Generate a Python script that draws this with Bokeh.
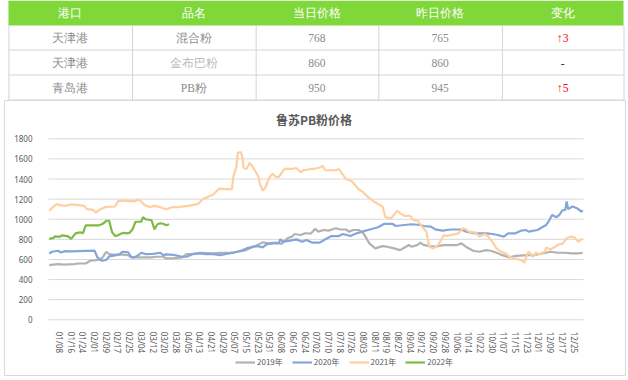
from bokeh.plotting import figure
from bokeh.layouts import column
from bokeh.models import Range1d, FixedTicker, Legend, LegendItem, LinearAxis, Label
from bokeh.core.properties import value
from bokeh.embed import file_html
from bokeh.resources import INLINE

# ---------------- table data ----------------
headers = ["港口", "品名", "当日价格", "昨日价格", "变化"]
ports = ["天津港", "天津港", "青岛港"]
products = ["混合粉", "金布巴粉", "PB粉"]
today_price = [768, 860, 950]
yesterday_price = [765, 860, 945]
changes = ["↑3", "-", "↑5"]

# ---------------- chart data ----------------
chart_title = "鲁苏PB粉价格"
series_names = ["2019年", "2020年", "2021年", "2022年"]
y_ticks = [0, 200, 400, 600, 800, 1000, 1200, 1400, 1600, 1800]
date_labels = ["01/08", "01/16", "01/24", "02/01", "02/09", "02/17", "02/25",
               "03/04", "03/12", "03/20", "03/28", "04/05", "04/13", "04/21",
               "04/29", "05/07", "05/15", "05/23", "05/31", "06/08", "06/16",
               "06/24", "07/02", "07/10", "07/18", "07/26", "08/03", "08/11",
               "08/19", "08/27", "09/04", "09/12", "09/20", "09/28", "10/06",
               "10/14", "10/22", "10/30", "11/07", "11/15", "11/23", "12/01",
               "12/09", "12/17", "12/25"]

day_2019 = [0, 6, 10, 17, 20, 25, 28, 32, 35, 37, 39, 41, 45, 48, 54, 56, 60, 64, 70,
            73, 78, 80, 85, 91, 94, 99, 103, 112, 117, 124, 129, 134, 137, 141, 146,
            150, 155, 159, 163, 166, 168, 172, 175, 179, 182, 184, 188, 191, 196, 199,
            203, 205, 208, 212, 215, 219, 223, 228, 231, 236, 240, 244, 246, 248, 252,
            254, 256, 260, 264, 270, 279, 282, 285, 290, 294, 299, 302, 306, 310, 315,
            318, 324, 331, 335, 343, 348, 353, 357, 362, 365]
price_2019 = [543, 553, 548, 553, 560, 560, 587, 593, 600, 630, 677, 653, 645, 650, 643,
              620, 622, 620, 620, 627, 627, 610, 610, 620, 653, 655, 667, 660, 665, 665,
              677, 690, 710, 733, 770, 760, 767, 755, 810, 827, 853, 843, 860, 858, 905,
              877, 893, 887, 910, 900, 898, 877, 893, 893, 860, 760, 710, 733, 727, 710,
              693, 727, 743, 727, 745, 767, 745, 733, 727, 743, 743, 760, 727, 687, 677,
              693, 687, 667, 643, 620, 633, 640, 643, 653, 677, 667, 667, 660, 660, 667]

day_2020 = [0, 2, 6, 8, 11, 15, 31, 33, 36, 39, 41, 45, 48, 50, 54, 56, 58, 61, 63, 66,
            71, 76, 78, 80, 85, 91, 94, 98, 103, 107, 112, 117, 121, 126, 131, 135, 139,
            143, 146, 149, 153, 157, 158, 160, 165, 169, 173, 176, 180, 185, 188, 193,
            198, 201, 206, 209, 214, 220, 225, 229, 235, 237, 243, 248, 254, 256, 261,
            264, 269, 275, 282, 285, 292, 299, 303, 307, 309, 311, 314, 319, 323, 326,
            328, 334, 336, 340, 342, 344, 347, 349, 351, 353, 354, 355, 358, 361, 364, 365]
price_2020 = [660, 677, 687, 670, 683, 680, 687, 620, 587, 595, 630, 640, 650, 677, 672,
              627, 620, 643, 667, 653, 655, 667, 643, 650, 645, 627, 627, 653, 660, 653,
              653, 643, 655, 667, 687, 710, 727, 733, 720, 753, 760, 760, 800, 777, 787,
              800, 777, 793, 767, 767, 793, 833, 833, 853, 833, 853, 877, 900, 920, 953,
              953, 933, 943, 950, 943, 933, 927, 900, 887, 898, 898, 877, 860, 860, 853,
              843, 833, 827, 860, 860, 887, 893, 877, 893, 910, 943, 987, 1043, 1020, 1043,
              1087, 1093, 1177, 1100, 1127, 1110, 1077, 1087]

day_2021 = [0, 1, 5, 10, 15, 20, 24, 26, 30, 32, 34, 38, 45, 47, 50, 54, 58, 61, 62, 65,
            69, 72, 76, 80, 84, 88, 95, 102, 105, 109, 112, 115, 116, 120, 125, 126, 128,
            129, 131, 132, 133, 135, 137, 139, 141, 143, 144, 146, 148, 149, 151, 153,
            155, 157, 159, 161, 166, 169, 172, 174, 179, 181, 185, 187, 189, 196, 198,
            203, 207, 212, 214, 219, 222, 228, 230, 234, 238, 240, 243, 247, 249, 252,
            255, 258, 260, 263, 266, 268, 270, 272, 280, 283, 285, 287, 292, 294, 298,
            300, 303, 306, 308, 312, 315, 318, 323, 325, 327, 328, 331, 333, 335, 339,
            340, 343, 346, 349, 351, 354, 357, 359, 362, 364, 365]
price_2021 = [1085, 1100, 1150, 1133, 1147, 1140, 1133, 1100, 1093, 1065, 1093, 1120,
              1127, 1177, 1187, 1180, 1180, 1195, 1190, 1143, 1120, 1133, 1120, 1100,
              1120, 1120, 1133, 1153, 1200, 1227, 1243, 1287, 1305, 1300, 1300, 1427,
              1520, 1660, 1667, 1627, 1510, 1500, 1560, 1527, 1477, 1427, 1360, 1283,
              1320, 1360, 1427, 1453, 1420, 1420, 1460, 1500, 1500, 1510, 1470, 1487,
              1500, 1500, 1515, 1530, 1487, 1487, 1500, 1400, 1377, 1293, 1277, 1210,
              1177, 1127, 1020, 1010, 1083, 1060, 1033, 1033, 993, 987, 927, 877, 727,
              710, 743, 793, 843, 833, 860, 910, 900, 877, 867, 827, 853, 833, 777, 710,
              687, 660, 627, 610, 593, 567, 653, 677, 627, 667, 653, 677, 720, 700, 727,
              753, 753, 810, 827, 820, 777, 800, 800]

day_2022 = [0, 3, 4, 7, 9, 13, 15, 18, 21, 23, 24, 25, 34, 36, 38, 39, 41, 43, 45, 47,
            49, 51, 53, 55, 57, 59, 63, 64, 66, 70, 72, 74, 76, 78, 80, 82]
price_2022 = [805, 815, 830, 825, 840, 830, 805, 860, 870, 860, 900, 940, 940, 950, 970,
              985, 985, 870, 835, 840, 855, 865, 860, 865, 900, 975, 975, 1020, 1000, 990,
              900, 950, 960, 955, 940, 950]

# ---------------- styles ----------------
W = 628
HEADER_GREEN = "#7FD73A"
CELL_LINE = "#D4D4D4"
TEXT_GRAY = "#8C8C8C"
GRID = "#D9D9D9"
AXIS_TEXT = "#595959"
colors = ["#B2B2B2", "#86A5D9", "#FFCFA0", "#7DBB45"]

# ---------------- table figure ----------------
tbl = figure(width=W, height=100, x_range=Range1d(0, W), y_range=Range1d(100, 0),
             toolbar_location=None, output_backend="svg", min_border=0,
             x_axis_location=None, y_axis_location=None)
tbl.grid.visible = False
tbl.outline_line_color = None

edges = [4, 129, 254, 378, 503, 626]
row_h = 25
tbl.quad(left=edges[0], right=edges[-1], top=0, bottom=row_h,
         fill_color=HEADER_GREEN, line_color=None)
n_rows = len(ports)
hy = [row_h * (i + 2) - 0.5 for i in range(n_rows)]
tbl.segment(x0=[edges[0]] * n_rows, x1=[edges[-1]] * n_rows, y0=hy, y1=hy,
            line_color=CELL_LINE, line_width=1)
vx = [e + 0.5 for e in edges]
tbl.segment(x0=vx, x1=vx, y0=[row_h] * len(vx), y1=[row_h * (n_rows + 1)] * len(vx),
            line_color=CELL_LINE, line_width=1)

centers = [(edges[i] + edges[i + 1]) / 2 for i in range(len(headers))]
tbl.text(x=centers, y=[row_h / 2] * len(headers), text=headers,
         text_align="center", text_baseline="middle", text_color="white",
         text_font=value("Liberation Serif"), text_font_size="11.5px")

cell_x, cell_y, cell_t, cell_c = [], [], [], []
for r in range(n_rows):
    vals = [ports[r], products[r], str(today_price[r]), str(yesterday_price[r]), changes[r]]
    for c, v in enumerate(vals):
        cell_x.append(centers[c])
        cell_y.append(row_h * (r + 1) + row_h / 2)
        cell_t.append(v)
        if c == 4:
            cell_c.append("#FF0000" if v.startswith("↑") else "#333333")
        elif c == 1 and r == 1:
            cell_c.append("#BBBBBB")
        else:
            cell_c.append(TEXT_GRAY)
tbl.text(x=cell_x, y=cell_y, text=cell_t, text_color=cell_c,
         text_align="center", text_baseline="middle",
         text_font=value("Liberation Serif"), text_font_size="11.5px")

# ---------------- chart figure: frame = the chart box ----------------
H = 280
BOX_L, BOX_R, BOX_B = 4, 625, 275          # box in figure pixels (top = 0)
PLOT_L, PLOT_R = 48, 583                   # plot area (pixels)
PLOT_T, PLOT_B = 38.3, 219.3
X0, X1 = -0.5, 365.5                       # category extent (days)
Y0, Y1 = y_ticks[0], y_ticks[-1]
sx = (PLOT_R - PLOT_L) / (X1 - X0)
sy = (PLOT_B - PLOT_T) / (Y1 - Y0)
x_range = Range1d(X0 - (PLOT_L - BOX_L) / sx, X1 + (BOX_R - PLOT_R) / sx)
y_range = Range1d(Y0 - (BOX_B - PLOT_B) / sy, Y1 + PLOT_T / sy)

p = figure(width=W, height=H, x_range=x_range, y_range=y_range,
           toolbar_location=None, output_backend="svg",
           x_axis_location=None, y_axis_location=None,
           min_border_left=BOX_L, min_border_right=W - BOX_R, min_border_top=0,
           min_border_bottom=H - BOX_B)
p.outline_line_color = GRID
p.grid.visible = False

# horizontal gridlines across the plot area only
p.segment(x0=[X0] * len(y_ticks), x1=[X1] * len(y_ticks), y0=y_ticks, y1=y_ticks,
          line_color=GRID, line_width=1)

yax = LinearAxis(ticker=FixedTicker(ticks=y_ticks), fixed_location=X0)
yax.axis_line_color = None
yax.major_tick_line_color = None
yax.minor_tick_line_color = None
yax.major_label_standoff = 10
yax.major_label_text_font_size = "8px"
yax.major_label_text_color = AXIS_TEXT
yax.major_label_text_font = "Noto Sans"
p.add_layout(yax, "left")

tick_pos = [7 + 8 * i for i in range(len(date_labels))]
xax = LinearAxis(ticker=FixedTicker(ticks=tick_pos), fixed_location=Y0)
xax.major_label_overrides = {t: l for t, l in zip(tick_pos, date_labels)}
xax.major_label_orientation = "vertical"
xax.axis_line_color = None
xax.major_tick_line_color = None
xax.minor_tick_line_color = None
xax.major_label_standoff = 6
xax.major_label_text_font_size = "8px"
xax.major_label_text_color = AXIS_TEXT
xax.major_label_text_font = "Noto Sans"
p.add_layout(xax, "below")

all_days = [day_2019, day_2020, day_2021, day_2022]
all_prices = [price_2019, price_2020, price_2021, price_2022]
items = []
for name, d, v, col in zip(series_names, all_days, all_prices, colors):
    r = p.line(x=d, y=v, line_color=col, line_width=2.2)
    items.append(LegendItem(label=name, renderers=[r]))

legend = Legend(items=items, orientation="horizontal", location=(231, 8),
                glyph_width=20, glyph_height=10, label_height=10, label_standoff=2,
                spacing=9, padding=0, margin=0, border_line_color=None,
                background_fill_alpha=0, label_text_font_size="8px",
                label_text_color=AXIS_TEXT, label_text_font="Noto Sans CJK SC")
p.add_layout(legend)

title_y = Y1 + (PLOT_T - 19) / sy
p.add_layout(Label(x=(X0 + X1) / 2, y=title_y, x_offset=-2, text=chart_title,
                   text_align="center", text_baseline="middle", text_font_size="12px",
                   text_font_style="bold", text_color=AXIS_TEXT,
                   text_font="Noto Sans CJK SC"))

layout = column(tbl, p)
open("out.html", "w").write(file_html(layout, INLINE))
